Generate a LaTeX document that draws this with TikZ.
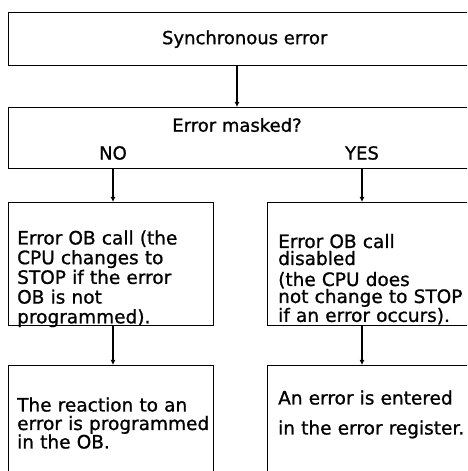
\documentclass[tikz,border=0pt]{standalone}
\usepackage{fontspec}
\setmainfont[FakeBold=1]{DejaVu Sans}
\usetikzlibrary{arrows.meta}
\usetikzlibrary{positioning}

\begin{document}
\begin{tikzpicture}[x=1pt,y=1pt,
  box/.style={draw,line width=1.4pt,inner sep=0pt,anchor=north west},
  txt/.style={inner sep=0pt,anchor=base west,text width=260pt,align=left},
  lbl/.style={inner sep=0pt,font=\fontsize{18}{20}\selectfont},
  arr/.style={line width=2pt,-{Latex[length=5pt,width=5pt]}}]
\useasboundingbox (0,0) rectangle (467,471);
\clip (0,0) rectangle (467,471);

% the two boxes across the top
\node[box,minimum width=472,minimum height=53,font=\fontsize{18}{20}\selectfont] (sync) at (8,459) {Synchronous error};
\node[box,minimum width=472,minimum height=61] (masked) at (8,364) {};
\node[lbl] (maskq) at (237,346) {Error masked?};
\node[lbl] (no) at (113,318) {NO};
\node[lbl] (yes) at (362,318) {YES};

% the two branches
\node[box,minimum width=205,minimum height=123] (obcall) at (8,269) {};
\node[box,minimum width=213,minimum height=123] (disab) at (267,269) {};
\node[box,minimum width=205,minimum height=130] (react) at (8,106) {};
\node[box,minimum width=213,minimum height=130] (entered) at (267,106) {};

\node[txt,font=\fontsize{18.5}{19.7}\selectfont] (obtxt) at (17,226.5)
  {Error OB call (the\\CPU changes to\\STOP if the error\\OB is not\\programmed).};
\node[txt,font=\fontsize{18.5}{17}\selectfont] (distxt) at (278,223)
  {Error OB call\\disabled\\[4pt](the CPU does\\not change to STOP\\if an error occurs).};
\node[txt,font=\fontsize{18.5}{18.5}\selectfont] (reacttxt) at (17,59.5)
  {The reaction to an\\error is programmed\\in the OB.};
\node[txt,font=\fontsize{18.5}{30}\selectfont] (entertxt) at (278,66.5)
  {An error is entered\\in the error register.};

% connectors
\draw[arr,line width=2.6pt] (maskq |- sync.south) -- (maskq |- masked.north);
\draw[arr,line width=1.6pt] (no |- masked.south) -- (no |- obcall.north);
\draw[arr,line width=2.4pt] (yes |- masked.south) -- (yes |- disab.north);
\draw[arr,line width=1.6pt] (no |- obcall.south) -- (no |- react.north);
\draw[arr,line width=2.4pt] (yes |- disab.south) -- (yes |- entered.north);

\end{tikzpicture}
\end{document}
